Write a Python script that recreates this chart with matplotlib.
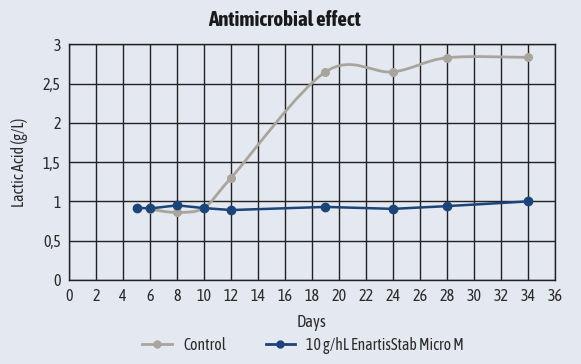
import matplotlib
matplotlib.use("Agg")
import matplotlib.pyplot as plt
from matplotlib.path import Path
from matplotlib.patches import PathPatch
from matplotlib.lines import Line2D

days_control = [6, 8, 10, 12, 19, 24, 28, 34]
control = [0.90, 0.86, 0.92, 1.30, 2.65, 2.65, 2.83, 2.835]

days_micro = [5, 6, 8, 10, 12, 19, 24, 28, 34]
micro = [0.92, 0.91, 0.95, 0.915, 0.89, 0.93, 0.905, 0.94, 1.0]

x_ticks = list(range(0, 37, 2))
y_ticks = [0, 0.5, 1, 1.5, 2, 2.5, 3]
y_labels = ["0", "0,5", "1", "1,5", "2", "2,5", "3"]

GRAY = "#a9a59d"
BLUE = "#1b4479"
BG = "#e4e8f0"
TXT = "#2b2b2b"

plt.rcParams["font.family"] = ["Asap Condensed", "Archivo Narrow", "DejaVu Sans"]


def smooth_path(xs, ys):
    # excel-like smoothed line (bezier through the points)
    pts = list(zip(xs, ys))
    verts = [pts[0]]
    codes = [Path.MOVETO]
    n = len(pts)
    for i in range(n - 1):
        p0 = pts[i - 1] if i > 0 else pts[i]
        p1 = pts[i]
        p2 = pts[i + 1]
        p3 = pts[i + 2] if i + 2 < n else pts[i + 1]
        c1 = (p1[0] + (p2[0] - p0[0]) / 6, p1[1] + (p2[1] - p0[1]) / 6)
        c2 = (p2[0] - (p3[0] - p1[0]) / 6, p2[1] - (p3[1] - p1[1]) / 6)
        verts += [c1, c2, p2]
        codes += [Path.CURVE4] * 3
    return Path(verts, codes)


fig = plt.figure(figsize=(5.81, 3.64), dpi=100, facecolor=BG)
ax = fig.add_axes([0.119, 0.231, 0.836, 0.647], facecolor=BG)

ax.add_patch(PathPatch(smooth_path(days_control, control), fill=False,
                       edgecolor=GRAY, lw=2, zorder=3))
ax.plot(days_control, control, "o", color=GRAY, ms=5.5, zorder=3)
ax.plot(days_micro, micro, "-o", color=BLUE, lw=1.8, ms=6, zorder=4)

ax.set_xlim(0, 36)
ax.set_ylim(0, 3)
ax.set_xticks(x_ticks)
ax.set_yticks(y_ticks)
ax.set_yticklabels(y_labels)
ax.grid(True, color="#222222", lw=1)
ax.set_axisbelow(True)
for s in ax.spines.values():
    s.set_color("#222222")
    s.set_linewidth(1)
ax.tick_params(length=0, labelsize=11.5, colors=TXT, pad=6)

ax.set_xlabel("Days", fontsize=12, color=TXT, labelpad=6)
ax.set_ylabel("Lactic Acid (g/L)", fontsize=11.5, color=TXT, labelpad=11)
fig.text(0.489, 0.945, "Antimicrobial effect", ha="center", va="center",
         fontsize=15, fontweight="bold", color="#1a1a1a")

handles = [
    Line2D([], [], color=GRAY, lw=2, marker="o", ms=5),
    Line2D([], [], color=BLUE, lw=2, marker="o", ms=5),
]
fig.legend(handles, ["Control", "10 g/hL EnartisStab Micro M"],
           loc="center", bbox_to_anchor=(0.522, 0.052), ncol=2, frameon=False,
           fontsize=11.3, handlelength=1.9, handletextpad=0.7,
           columnspacing=2.5, labelcolor=TXT)

fig.savefig("out.png", dpi=100, facecolor=BG)
